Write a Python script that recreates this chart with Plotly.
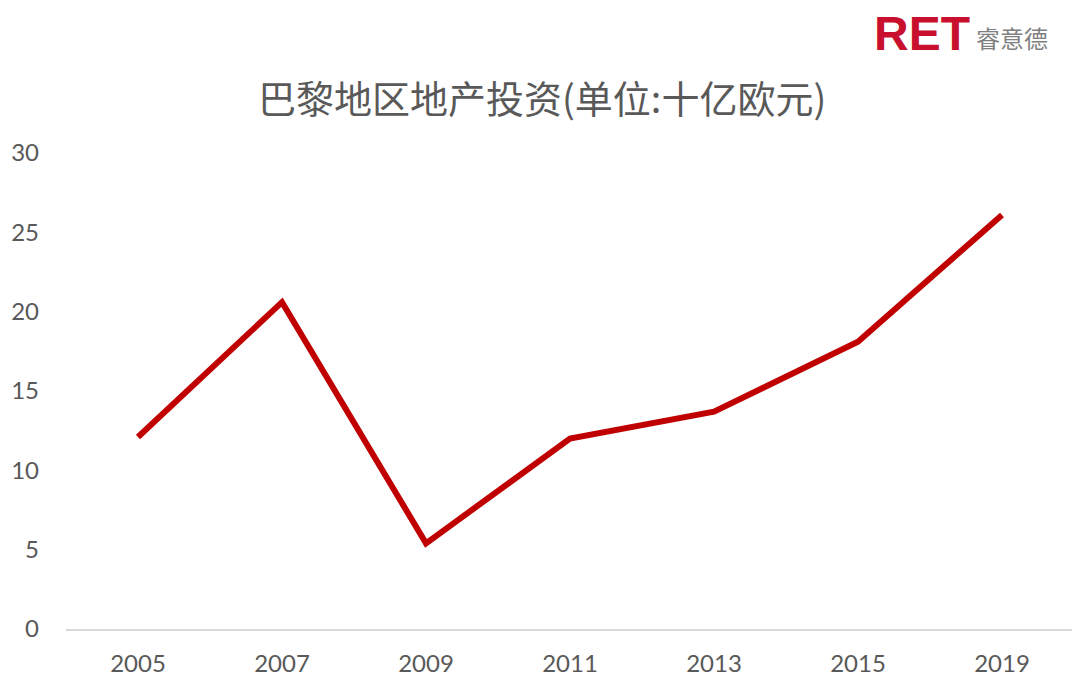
import plotly.graph_objects as go

years = ["2005", "2007", "2009", "2011", "2013", "2015", "2019"]
investment = [12.1, 20.6, 5.4, 12.0, 13.7, 18.1, 26.1]
y_ticks = [0, 5, 10, 15, 20, 25, 30]

title_text = "巴黎地区地产投资(单位:十亿欧元)"
logo_main = "RET"
logo_sub = "睿意德"

# page offset (body margin) compensation
OFF = 8
W, H = 1080, 697
l, r, t, b = 66 - OFF, 6 + OFF, 153 - OFF, 68 + OFF
pw, ph = W - l - r, H - t - b


def px2paper(px, py):
    return (px - OFF - l) / pw, (H - b - (py - OFF)) / ph


fig = go.Figure()
fig.add_trace(go.Scatter(
    x=years, y=investment, mode="lines",
    line=dict(color="#C00000", width=6),
    hoverinfo="x+y",
))

tx, ty = px2paper(542, 96)
rx, ry = px2paper(922, 33)
sx, sy = px2paper(1012, 38)

fig.update_layout(
    width=W, height=H,
    margin=dict(l=l, r=r, t=t, b=b, autoexpand=False),
    paper_bgcolor="white", plot_bgcolor="white",
    showlegend=False,
    font=dict(family="Lato, 'Noto Sans CJK SC', sans-serif", color="#595959", size=24),
    xaxis=dict(
        type="category", range=[-0.5, 6.5],
        showline=True, linecolor="#D9D9D9", linewidth=2,
        showgrid=False, zeroline=False, ticks="",
        ticklabelstandoff=12, automargin=False,
        tickfont=dict(size=24, color="#595959"),
        fixedrange=True,
    ),
    yaxis=dict(
        range=[0, 30], tickvals=y_ticks,
        showgrid=False, zeroline=False, showline=False, ticks="",
        ticklabelstandoff=26, automargin=False,
        tickfont=dict(size=24, color="#595959"),
        fixedrange=True,
    ),
    annotations=[
        dict(text=title_text, x=tx, y=ty, xref="paper", yref="paper",
             showarrow=False, xanchor="center", yanchor="middle",
             font=dict(family="'Noto Sans CJK SC', sans-serif", size=38, color="#595959")),
        dict(text="<b>" + logo_main + "</b>", x=rx, y=ry, xref="paper", yref="paper",
             showarrow=False, xanchor="center", yanchor="middle",
             font=dict(family="'Liberation Sans', Arial, sans-serif", size=48, color="#C8102E")),
        dict(text=logo_sub, x=sx, y=sy, xref="paper", yref="paper",
             showarrow=False, xanchor="center", yanchor="middle",
             font=dict(family="'Noto Sans CJK SC', sans-serif", size=24, color="#7F7F7F")),
    ],
)

fig.write_html("out.html")
